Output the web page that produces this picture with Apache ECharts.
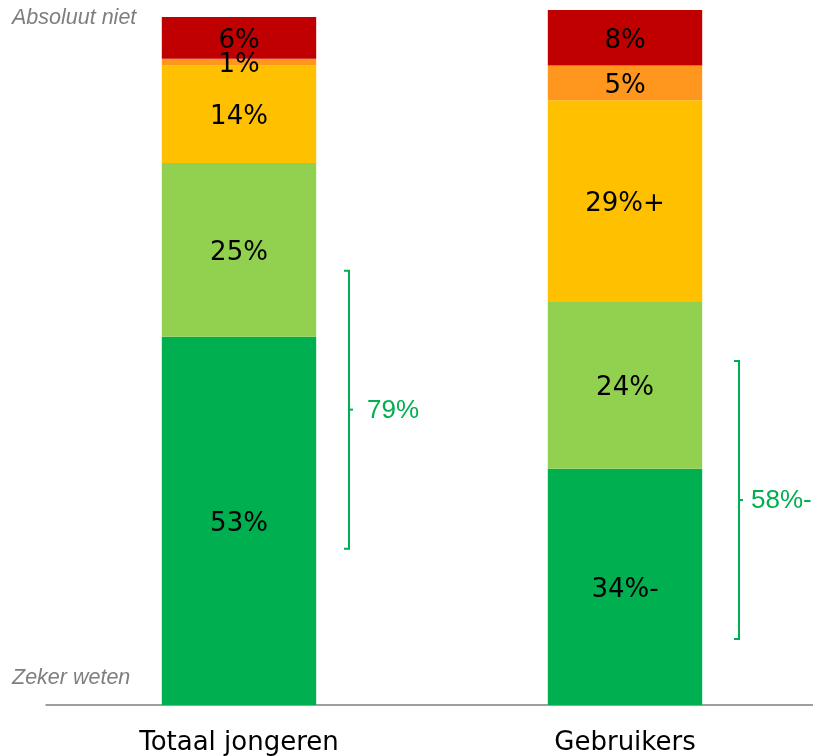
<!DOCTYPE html>
<html>
<head>
<meta charset="utf-8">
<script src="https://cdn.jsdelivr.net/npm/echarts@6/dist/echarts.min.js"></script>
<style>
html,body{margin:0;padding:0;background:#fff;overflow:hidden;width:813px;height:756px;}
#c{width:818px;height:756px;}
</style>
</head>
<body>
<div id="c"></div>
<script>
// ---- data ----
const categories = ['Totaal jongeren', 'Gebruikers'];
const zekerWeten = [53, 34];
const waarschijnlijkWel = [25, 24];
const misschien = [14, 29];
const waarschijnlijkNiet = [1, 5];
const absoluutNiet = [6, 8];
// significance markers appended to labels
const zekerWetenMark = ['', '-'];
const waarschijnlijkWelMark = ['', ''];
const misschienMark = ['', '+'];
const waarschijnlijkNietMark = ['', ''];
const absoluutNietMark = ['', ''];
// brackets: upper value, lower value, label per category
const bracketTop = [62.5, 49.5];
const bracketBottom = [22.5, 9.5];
const bracketLabels = ['79%', '58%-'];
const scaleTop = 'Absoluut niet';
const scaleBottom = 'Zeker weten';

// ---- chart ----
const chart = echarts.init(document.getElementById('c'), null, {renderer: 'canvas'});
const segFont = 'DejaVu Sans, Verdana, sans-serif';

function barSeries(name, values, marks, color) {
  return {
    name: name,
    type: 'bar',
    stack: 'total',
    barWidth: '40%',
    itemStyle: {color: color},
    label: {
      show: true,
      position: 'inside',
      offset: [0, 3],
      color: '#000',
      fontSize: 26,
      fontFamily: segFont,
      formatter: p => p.value + '%' + marks[p.dataIndex]
    },
    emphasis: {disabled: true},
    data: values
  };
}

const bracketOffset = [110, 114];
const bracketTextGap = [18, 12];

const option = {
  animation: false,
  grid: {left: 46, right: 0, top: 10, bottom: 51},
  xAxis: {
    type: 'category',
    data: categories,
    axisLine: {lineStyle: {color: '#7f7f7f', width: 1.5}},
    axisTick: {show: false},
    axisLabel: {color: '#000', fontSize: 26, fontFamily: segFont, margin: 25}
  },
  yAxis: {
    type: 'value', min: 0, max: 100, show: false
  },
  series: [
    barSeries('Zeker weten', zekerWeten, zekerWetenMark, '#00B050'),
    barSeries('Waarschijnlijk wel', waarschijnlijkWel, waarschijnlijkWelMark, '#92D050'),
    barSeries('Misschien', misschien, misschienMark, '#FFC000'),
    barSeries('Waarschijnlijk niet', waarschijnlijkNiet, waarschijnlijkNietMark, '#FF961E'),
    barSeries('Absoluut niet', absoluutNiet, absoluutNietMark, '#C00000'),
    {
      type: 'custom',
      silent: true,
      data: categories.map((c, i) => [i, bracketTop[i], bracketBottom[i]]),
      renderItem: function (params, api) {
        const i = api.value(0);
        const t = api.coord([i, api.value(1)]);
        const b = api.coord([i, api.value(2)]);
        const x = t[0] + bracketOffset[i];
        const mid = (t[1] + b[1]) / 2;
        const st = {stroke: '#00B050', lineWidth: 2, fill: null};
        return {
          type: 'group',
          children: [
            {type: 'polyline', shape: {points: [[x - 5, t[1]], [x, t[1]], [x, b[1]], [x - 5, b[1]]]}, style: st},
            {type: 'line', shape: {x1: x, y1: mid, x2: x + 4, y2: mid}, style: st},
            {type: 'text', x: x + bracketTextGap[i], y: mid + 1,
             style: {text: bracketLabels[i], fill: '#00B050', fontSize: 26,
                     fontFamily: 'Liberation Sans, Arial, sans-serif',
                     verticalAlign: 'middle', align: 'left'}}
          ]
        };
      }
    }
  ],
  graphic: [
    {type: 'text', left: 12, top: 7,
     style: {text: scaleTop, fill: '#7f7f7f', fontSize: 21.5, fontStyle: 'italic',
             fontFamily: 'Liberation Sans, Arial, sans-serif'}},
    {type: 'text', left: 12, top: 667,
     style: {text: scaleBottom, fill: '#7f7f7f', fontSize: 21.5, fontStyle: 'italic',
             fontFamily: 'Liberation Sans, Arial, sans-serif'}}
  ]
};
chart.setOption(option);
</script>
</body>
</html>
